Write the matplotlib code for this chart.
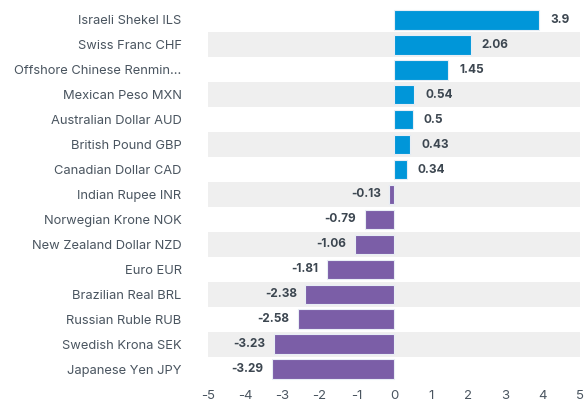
import matplotlib.pyplot as plt

currencies = ["Israeli Shekel ILS", "Swiss Franc CHF", "Offshore Chinese Renmin\u2026",
              "Mexican Peso MXN", "Australian Dollar AUD", "British Pound GBP",
              "Canadian Dollar CAD", "Indian Rupee INR", "Norwegian Krone NOK",
              "New Zealand Dollar NZD", "Euro EUR", "Brazilian Real BRL",
              "Russian Ruble RUB", "Swedish Krona SEK", "Japanese Yen JPY"]
changes = [3.9, 2.06, 1.45, 0.54, 0.5, 0.43, 0.34, -0.13, -0.79, -1.06,
           -1.81, -2.38, -2.58, -3.23, -3.29]
xticks = [-5, -4, -3, -2, -1, 0, 1, 2, 3, 4, 5]

plt.rcParams['font.family'] = ['Inter', 'DejaVu Sans']

fig = plt.figure(figsize=(5.85, 4.04), dpi=100)
ax = fig.add_axes([208 / 585, 22.5 / 404, 372 / 585, 374 / 404])

n = len(currencies)
ypos = list(range(n))

# alternating row bands
for i in ypos:
    if i % 2 == 1:
        ax.axhspan(i - 0.5, i + 0.5, color='#efefef', lw=0, zorder=0)

colors = ['#0096d9' if v >= 0 else '#7b5ea7' for v in changes]
ax.barh(ypos, changes, height=0.78, color=colors, edgecolor='#e8eef5',
        linewidth=0.8, zorder=2)

for i, v in enumerate(changes):
    label = f"{v:g}"
    if v >= 0:
        ax.annotate(label, (v, i), xytext=(8, 0), textcoords='offset points',
                    ha='left', va='center', fontsize=8.5, fontweight='bold',
                    color='#3c4650', zorder=3)
    else:
        ax.annotate(label, (v, i), xytext=(-6, 0), textcoords='offset points',
                    ha='right', va='center', fontsize=8.5, fontweight='bold',
                    color='#3c4650', zorder=3)

ax.set_xlim(-5, 5)
ax.set_ylim(n - 0.5, -0.5)
ax.set_yticks(ypos)
ax.set_yticklabels(currencies)
ax.set_xticks(xticks)
ax.set_xticklabels([str(t) for t in xticks])
ax.tick_params(axis='y', length=0, pad=19, labelsize=9.3, labelcolor='#4a5560')
ax.tick_params(axis='x', length=0, pad=6, labelsize=9.5, labelcolor='#4a5560')
for s in ax.spines.values():
    s.set_visible(False)

fig.savefig('out.png', dpi=100)
